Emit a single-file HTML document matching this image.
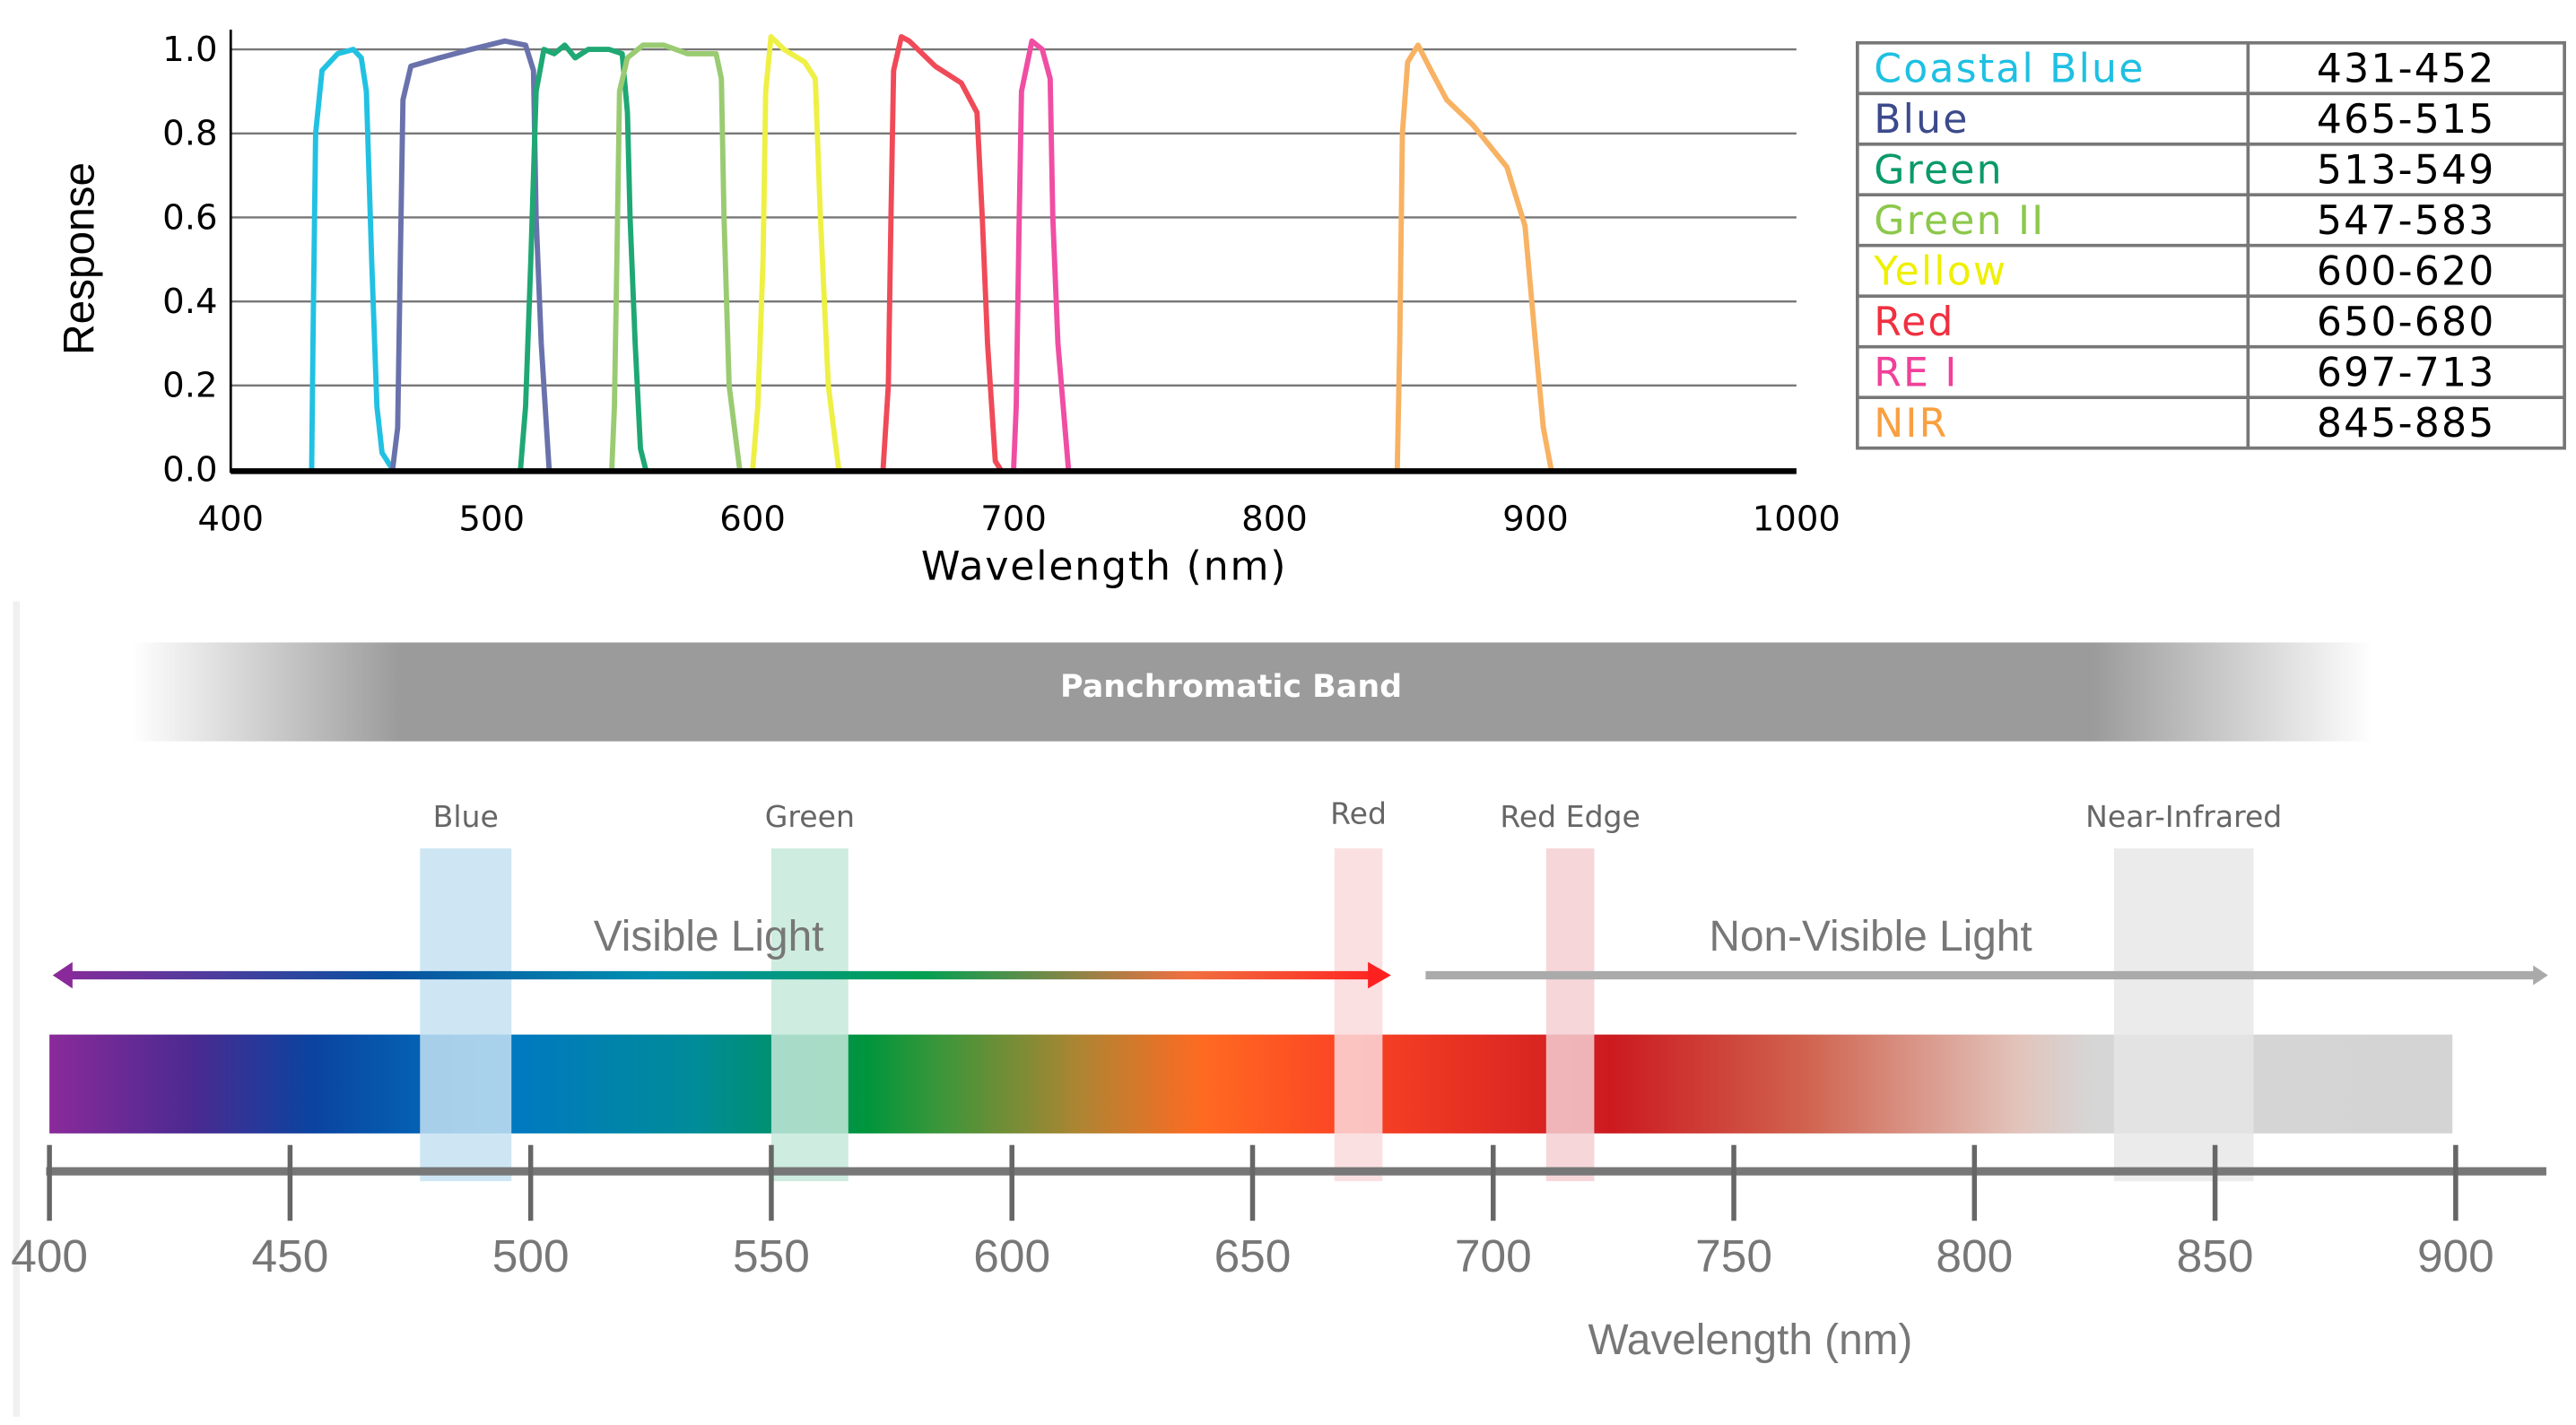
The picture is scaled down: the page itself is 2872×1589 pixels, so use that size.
<!DOCTYPE html>
<html><head><meta charset="utf-8"><style>
html,body{margin:0;padding:0;background:#fff;}
svg{display:block;}
</style></head><body>
<svg id="chart" xmlns="http://www.w3.org/2000/svg" width="2872" height="1589" viewBox="0 0 1563 865" preserveAspectRatio="none">
<defs>
<linearGradient id="panGrad" x1="0" x2="1" y1="0" y2="0">
<stop offset="0" stop-color="#9b9b9b" stop-opacity="0"/>
<stop offset="0.12" stop-color="#9b9b9b" stop-opacity="1"/>
<stop offset="0.875" stop-color="#9b9b9b" stop-opacity="1"/>
<stop offset="1" stop-color="#9b9b9b" stop-opacity="0"/>
</linearGradient>
<linearGradient id="specGrad" gradientUnits="userSpaceOnUse" x1="30" x2="1488" y1="0" y2="0">
<stop offset="0" stop-color="#8a2a9a"/>
<stop offset="0.06" stop-color="#4a2a90"/>
<stop offset="0.11" stop-color="#0a44a0"/>
<stop offset="0.19" stop-color="#0078c2"/>
<stop offset="0.27" stop-color="#008c98"/>
<stop offset="0.34" stop-color="#00953c"/>
<stop offset="0.37" stop-color="#3a963a"/>
<stop offset="0.43" stop-color="#b08432"/>
<stop offset="0.48" stop-color="#ff6a22"/>
<stop offset="0.54" stop-color="#fb4424"/>
<stop offset="0.65" stop-color="#cc1a20"/>
<stop offset="0.73" stop-color="#d0624e"/>
<stop offset="0.82" stop-color="#e2c4bc"/>
<stop offset="0.85" stop-color="#d6d6d6"/>
<stop offset="1" stop-color="#d4d4d4"/>
</linearGradient>
<linearGradient id="visGrad" gradientUnits="userSpaceOnUse" x1="32" x2="842" y1="0" y2="0">
<stop offset="0" stop-color="#8a2a9a"/>
<stop offset="0.25" stop-color="#0a50a0"/>
<stop offset="0.45" stop-color="#0090b0"/>
<stop offset="0.65" stop-color="#00a050"/>
<stop offset="0.85" stop-color="#f07040"/>
<stop offset="1" stop-color="#ff2020"/>
</linearGradient>
</defs>
<g id="topChart"></g>
<g id="table"></g>
<g id="bottom"></g>
</svg>
<script>
var NS='http://www.w3.org/2000/svg';
var yTicks=[0,0.2,0.4,0.6,0.8,1.0];
var yTickLabels=['0.0','0.2','0.4','0.6','0.8','1.0'];
var xTicks=[400,500,600,700,800,900,1000];
var bandNames=['Coastal Blue','Blue','Green','Green II','Yellow','Red','RE I','NIR'];
var bandRanges=['431-452','465-515','513-549','547-583','600-620','650-680','697-713','845-885'];
var coastalBlue=[[431,0],[431.5,0.3],[432.5,0.8],[435,0.95],[441,0.99],[447,1.0],[450,0.98],[452,0.9],[454,0.5],[456,0.15],[458,0.04],[462,0]];
var blue=[[462,0],[464,0.1],[465,0.5],[466,0.88],[469,0.96],[480,0.98],[492,1.0],[505,1.02],[513,1.01],[516,0.95],[517,0.6],[519,0.3],[522,0]];
var green=[[511,0],[513,0.15],[515,0.5],[517,0.9],[520,1.0],[524,0.99],[528,1.01],[532,0.98],[537,1.0],[545,1.0],[550,0.99],[552,0.85],[553,0.6],[555,0.3],[557,0.05],[559,0]];
var green2=[[546,0],[547,0.15],[548,0.5],[549,0.9],[552,0.98],[558,1.01],[566,1.01],[575,0.99],[586,0.99],[588,0.93],[589,0.6],[591,0.2],[595,0]];
var yellow=[[600,0],[602,0.15],[604,0.5],[605,0.9],[607,1.03],[612,1.0],[620,0.97],[624,0.93],[626,0.6],[629,0.2],[633,0]];
var red=[[650,0],[652,0.2],[653,0.6],[654,0.95],[657,1.03],[660,1.02],[670,0.96],[680,0.92],[686,0.85],[688,0.6],[690,0.3],[693,0.02],[695,0]];
var rei=[[700,0],[701,0.15],[702,0.55],[703,0.9],[707,1.02],[711,1.0],[714,0.93],[715,0.6],[717,0.3],[721,0]];
var nir=[[847,0],[848,0.3],[849,0.8],[851,0.97],[855,1.01],[860,0.95],[866,0.88],[876,0.82],[889,0.72],[896,0.58],[900,0.3],[903,0.1],[906,0]];
var series=[coastalBlue,blue,green,green2,yellow,red,rei,nir];
var seriesColors=['#22c1e2','#6a72ac','#1fa874','#9acb72','#eef044','#f04a58','#f04ea2','#f8b263'];
var seriesNames=['coastal-blue-curve','blue-curve','green-curve','green-ii-curve','yellow-curve','red-curve','re-i-curve','nir-curve'];
var tableColors=['#1ec0e2','#3c4a8c','#0a9a6a','#8cc84a','#eef000','#f03040','#f0409a','#f8a040'];

var specTicks=[400,450,500,550,600,650,700,750,800,850,900];
var featureNames=['Blue','Green','Red','Red Edge','Near-Infrared'];
var featureLo=[477,550,667,711,829];
var featureHi=[496,566,677,721,858];
var featureColors=['#c6e2f2','#c5e9da','#fadadd','#f4cfd2','#e6e6e6'];

function xS(v){return 140+(v-400)/600*950;}
function yS(v){return 285-v*255;}
function sX(v){return 30+(v-400)*2.92;}

function mk(tag,attrs,parent,text){var e=document.createElementNS(NS,tag);for(var k in attrs)e.setAttribute(k,attrs[k]);if(text!==undefined)e.textContent=text;parent.appendChild(e);return e;}

var topG=document.getElementById('topChart');
yTicks.forEach(function(t,i){
  if(t>0){var g=mk('line',{x1:140,x2:1090,y1:yS(t),y2:yS(t),stroke:'#777','stroke-width':1.3},topG);
  
  }
  var l=mk('text',{x:132,y:yS(t)+7,'text-anchor':'end','font-family':'DejaVu Sans, sans-serif','font-size':21,fill:'#000'},topG,yTickLabels[i]);
  
  
});
xTicks.forEach(function(t){
  var l=mk('text',{x:xS(t),y:322,'text-anchor':'middle','font-family':'DejaVu Sans, sans-serif','font-size':21,fill:'#000'},topG,String(t));
  
  
});
series.forEach(function(s,i){
  var d=s.map(function(p,j){return (j?'L':'M')+xS(p[0]).toFixed(1)+' '+yS(p[1]).toFixed(1);}).join(' ');
  var p=mk('path',{d:d,fill:'none',stroke:seriesColors[i],'stroke-width':3.2,'stroke-linejoin':'round','stroke-linecap':'round'},topG);
  
  
});
var ax=mk('line',{x1:140,x2:1090,y1:286,y2:286,stroke:'#000','stroke-width':3.5},topG);


var ay=mk('line',{x1:140,x2:140,y1:18,y2:287,stroke:'#000','stroke-width':1.5},topG);


var xt=mk('text',{x:670,y:352,'text-anchor':'middle','font-family':'DejaVu Sans, sans-serif','font-size':24,fill:'#000','letter-spacing':'1'},topG,'Wavelength (nm)');


var yt=mk('text',{x:0,y:0,'text-anchor':'middle','font-family':'Liberation Sans, sans-serif','font-size':26,fill:'#000',transform:'translate(57,157) rotate(-90)'},topG,'Response');



var tb=document.getElementById('table');
var tx0=1127,tx1=1556,tmid=1364,ty0=26,rh=(272-26)/8;
bandNames.forEach(function(n,i){
  var y=ty0+i*rh;
  var c1=mk('text',{x:1137,y:y+rh-7,'font-family':'DejaVu Sans, sans-serif','font-size':24,'letter-spacing':'1.2',fill:tableColors[i]},tb,n);
  
  
  var c2=mk('text',{x:1460,y:y+rh-7,'text-anchor':'middle','font-family':'DejaVu Sans, sans-serif','font-size':24,'letter-spacing':'1.2',fill:'#000'},tb,bandRanges[i]);
  
  
  if(i>0){var hl=mk('line',{x1:tx0,x2:tx1,y1:y,y2:y,stroke:'#777','stroke-width':2},tb);
  
  }
});
var tr=mk('rect',{x:tx0,y:ty0,width:tx1-tx0,height:272-ty0,fill:'none',stroke:'#777','stroke-width':2},tb);


var tv=mk('line',{x1:tmid,x2:tmid,y1:ty0,y2:272,stroke:'#777','stroke-width':2},tb);



var bt=document.getElementById('bottom');
var lb=mk('line',{x1:10,x2:10,y1:365,y2:860,stroke:'#f0f0f0','stroke-width':4},bt);


var pan=mk('rect',{x:80,y:390,width:1360,height:60,fill:'url(#panGrad)'},bt);


var pt=mk('text',{x:747,y:423,'text-anchor':'middle','font-family':'DejaVu Sans, sans-serif','font-weight':'bold','font-size':19,fill:'#fff'},bt,'Panchromatic Band');


var spec=mk('rect',{x:30,y:628,width:1458,height:60,fill:'url(#specGrad)'},bt);


featureNames.forEach(function(n,i){
  var x1=sX(featureLo[i]),x2=sX(featureHi[i]);
  var r=mk('rect',{x:x1,y:515,width:x2-x1,height:202,fill:featureColors[i],opacity:i==4?0.8:0.85},bt);
  
  
  var t=mk('text',{x:(x1+x2)/2,y:i==2?500:502,'text-anchor':'middle','font-family':'DejaVu Sans, sans-serif','font-size':18,fill:'#666'},bt,n);
  
  
});
var va=mk('path',{d:'M40 592 L832 592',stroke:'url(#visGrad)','stroke-width':5,fill:'none'},bt);


var vh1=mk('path',{d:'M32 592 L44 584 L44 600 Z',fill:'#8a2a9a'},bt);


var vh2=mk('path',{d:'M844 592 L830 584 L830 600 Z',fill:'#ff2020'},bt);


var na=mk('path',{d:'M865 592 L1540 592',stroke:'#aaa','stroke-width':5,fill:'none'},bt);


var nh=mk('path',{d:'M1546 592 L1537 586 L1537 598 Z',fill:'#aaa'},bt);


var vt=mk('text',{x:430,y:577,'text-anchor':'middle','font-family':'Liberation Sans, sans-serif','font-size':26,fill:'#777'},bt,'Visible Light');


var nt=mk('text',{x:1135,y:577,'text-anchor':'middle','font-family':'Liberation Sans, sans-serif','font-size':26,fill:'#777'},bt,'Non-Visible Light');


var sa=mk('line',{x1:28,x2:1545,y1:711,y2:711,stroke:'#777','stroke-width':5},bt);


specTicks.forEach(function(t){
  var x=sX(t);
  var tk=mk('line',{x1:x,x2:x,y1:695,y2:741,stroke:'#666','stroke-width':3},bt);
  
  
  var l=mk('text',{x:x,y:772,'text-anchor':'middle','font-family':'Liberation Sans, sans-serif','font-size':28,fill:'#777'},bt,String(t));
  
  
});
var st=mk('text',{x:1062,y:822,'text-anchor':'middle','font-family':'Liberation Sans, sans-serif','font-size':26,fill:'#777'},bt,'Wavelength (nm)');


</script>
</body></html>
